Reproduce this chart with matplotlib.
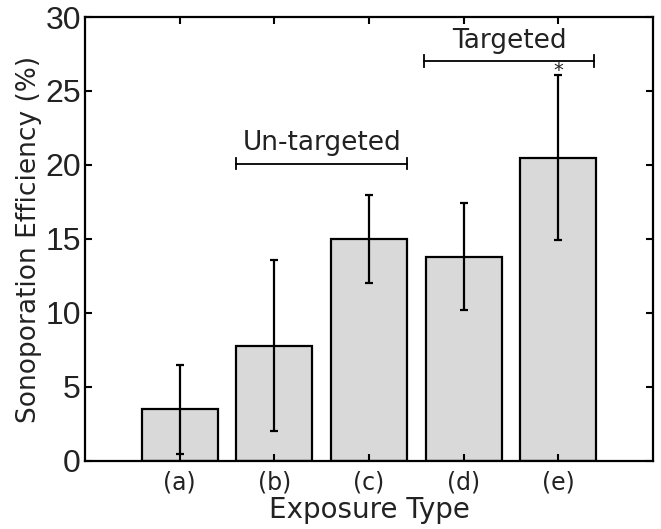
import numpy as np
import matplotlib
matplotlib.use("Agg")
import matplotlib.pyplot as plt

plt.rcParams["font.family"] = ["DejaVu Sans"]

# DATA
kategori = ["(a)", "(b)", "(c)", "(d)", "(e)"]
efisiensi = [3.5, 7.8, 15.0, 13.8, 20.5]
galat = [3.0, 5.8, 3.0, 3.6, 5.6]

kelompok = ["Un-targeted", "Targeted"]
kurung_x = [(1.6, 3.4), (3.58, 5.38)]
kurung_y = [20.1, 27.0]

posisi = np.arange(1, len(kategori) + 1)
warna_teks = "#222222"

fig = plt.figure(figsize=(6.61, 5.29), dpi=100)
ax = fig.add_axes([85 / 661, 1 - 461 / 529, 568 / 661, 444 / 529])

ax.bar(posisi, efisiensi, width=0.8, color="#d9d9d9", edgecolor="black", linewidth=1.6)
ax.errorbar(posisi, efisiensi, yerr=galat, fmt="none", ecolor="black",
            elinewidth=1.6, capsize=3, capthick=1.6)

# kurung penanda kelompok
for nama, (x0, x1), y in zip(kelompok, kurung_x, kurung_y):
    ax.plot([x0, x1], [y, y], color="black", lw=1.3)
    ax.plot([x0, x0], [y - 0.4, y + 0.4], color="black", lw=1.3)
    ax.plot([x1, x1], [y - 0.4, y + 0.4], color="black", lw=1.3)
    ax.text((x0 + x1) / 2, y + 0.9, nama, ha="center", va="baseline",
            fontsize=19, color=warna_teks)

ax.text(5, 26.0, "*", ha="center", va="baseline", fontsize=14, color=warna_teks)

ax.set_xlim(0, 6)
ax.set_ylim(0, 30)
ax.set_xticks(posisi)
ax.set_xticklabels(kategori)
ax.set_yticks(np.arange(0, 31, 5))

ax.tick_params(axis="x", direction="in", top=True, labelsize=17, length=5,
               width=1.5, pad=7, labelcolor=warna_teks)
ax.tick_params(axis="y", direction="in", right=True, labelsize=23, length=5,
               width=1.5, pad=3, labelcolor=warna_teks)
for lbl in ax.get_yticklabels():
    lbl.set_fontfamily("Liberation Sans")
for s in ax.spines.values():
    s.set_linewidth(1.6)

ax.set_xlabel("Exposure Type", fontsize=20, labelpad=1, color=warna_teks)
ax.set_ylabel("Sonoporation Efficiency (%)", fontsize=19, labelpad=2, color=warna_teks)

plt.savefig("out.png", dpi=100)
plt.close()
